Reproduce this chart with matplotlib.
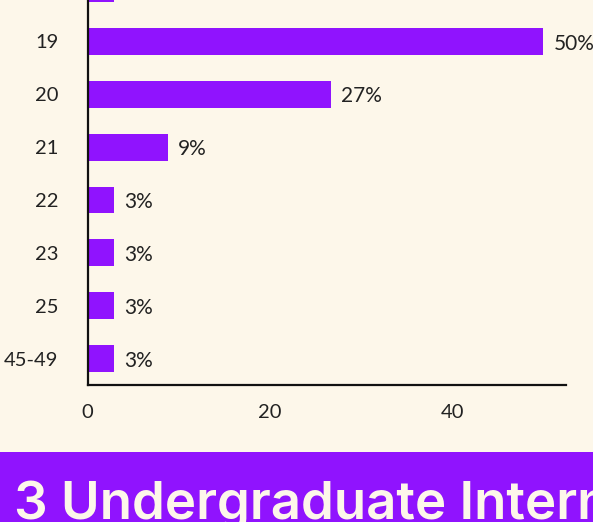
import matplotlib
matplotlib.use("Agg")
import matplotlib.pyplot as plt
from matplotlib.patches import Rectangle

categories = ["18", "19", "20", "21", "22", "23", "25", "45-49"]
percents = [2.9, 50.0, 26.7, 8.8, 2.9, 2.9, 2.9, 2.9]
labels = ["3%", "50%", "27%", "9%", "3%", "3%", "3%", "3%"]
xticks = [0, 20, 40]
banner_text = "3 Undergraduate Interns"

BG = "#FDF7EA"
PURPLE = "#9013FE"
TXT = "#222222"

plt.rcParams['font.family'] = ['Lato', 'DejaVu Sans']

fig = plt.figure(figsize=(5.93, 5.22), dpi=100, facecolor=BG)
W, H = 593, 522
left, right = 87.5 / W, 566 / W
bottom = 1 - 385 / H
top_px = -11.5 - 0.5 * 52.7
ax = fig.add_axes([left, bottom, right - left, (385 - top_px) / H])
ax.set_facecolor(BG)

ypos = list(range(len(categories)))
ax.barh(ypos, percents, height=0.51, color=PURPLE)
for y, p, lab in zip(ypos, percents, labels):
    ax.annotate(lab, (p, y), xytext=(7.5, -1.5), textcoords="offset points",
                va="center", ha="left", fontsize=15, color=TXT)

ax.set_ylim(len(categories) - 0.5, -0.5)
ax.set_xlim(0, 52.5)
ax.set_yticks(ypos)
ax.set_yticklabels(categories)
ax.set_xticks(xticks)
ax.tick_params(axis="y", length=0, pad=21, labelsize=14.5, colors=TXT)
ax.tick_params(axis="x", length=0, pad=14, labelsize=14.5, colors=TXT)
for s in ["top", "right"]:
    ax.spines[s].set_visible(False)
for s in ["left", "bottom"]:
    ax.spines[s].set_linewidth(1.6)
    ax.spines[s].set_color("#111111")

# banner
banner_h = (H - 452) / H
fig.patches.append(Rectangle((0, 0), 1, banner_h, transform=fig.transFigure,
                             facecolor=PURPLE, edgecolor="none", zorder=0))
fig.text(14 / W, 1 - 519 / H, banner_text, fontsize=38, fontweight="semibold",
         family=["Inter", "DejaVu Sans"], color=BG, ha="left", va="baseline")

fig.savefig("out.png", dpi=100, facecolor=BG)
